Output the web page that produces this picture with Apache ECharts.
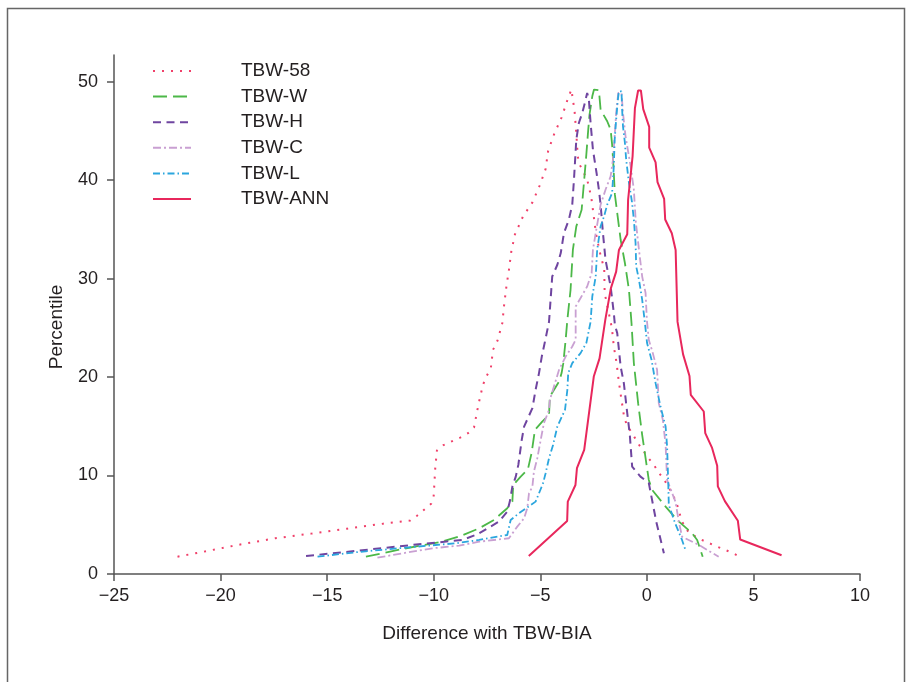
<!DOCTYPE html>
<html>
<head>
<meta charset="utf-8">
<title>TBW mountain plot</title>
<script src="https://cdn.jsdelivr.net/npm/echarts@6/dist/echarts.min.js"></script>
<style>
  html, body { margin: 0; padding: 0; background: #fff; }
  #main { width: 908px; height: 682px; }
</style>
</head>
<body>
<div id="main"></div>
<script>
// difference with TBW-BIA (x) vs folded percentile (y)
var seriesNames = ['TBW-58', 'TBW-W', 'TBW-H', 'TBW-C', 'TBW-L', 'TBW-ANN'];
var xTicks = [-25, -20, -15, -10, -5, 0, 5, 10];
var yTicks = [0, 10, 20, 30, 40, 50];

var tbw58 = [
  [-22.02, 1.76], [-20.78, 2.27], [-19.12, 2.98], [-17.43, 3.63], [-15.75, 4.10], [-14.06, 4.60],
  [-12.37, 5.11], [-11.11, 5.42], [-10.78, 5.92], [-10.45, 6.53], [-10.12, 7.14], [-10.00, 7.96],
  [-9.93, 10.70], [-9.85, 12.53], [-9.55, 13.08], [-8.76, 13.85], [-8.39, 14.30], [-8.11, 14.87],
  [-7.95, 16.67], [-7.87, 17.51], [-7.69, 19.21], [-7.53, 20.05], [-7.32, 20.90], [-7.22, 22.76],
  [-7.01, 23.68], [-6.78, 25.48], [-6.70, 27.24], [-6.59, 29.20], [-6.47, 30.89], [-6.36, 32.75],
  [-6.19, 34.48], [-5.81, 36.31], [-5.37, 37.73], [-5.03, 39.43], [-4.75, 41.13], [-4.63, 42.99],
  [-4.34, 44.72], [-4.00, 46.37], [-3.73, 48.10], [-3.54, 49.2],
  [-3.39, 46.98], [-3.33, 45.30], [-3.27, 43.42], [-3.25, 42.48], [-3.17, 41.64], [-2.99, 40.88],
  [-2.80, 40.04], [-2.61, 38.28], [-2.50, 36.48], [-2.39, 34.62], [-2.22, 32.79], [-2.00, 30.97],
  [-1.98, 28.53], [-1.81, 26.76], [-1.64, 24.97], [-1.55, 23.10], [-1.42, 21.41], [-1.31, 19.44],
  [-1.19, 17.68], [-1.06, 15.85], [-0.92, 15.04], [-0.66, 14.20], [-0.45, 13.38], [0.05, 11.82],
  [0.30, 11.18], [0.56, 10.29], [0.80, 9.62], [1.03, 8.77], [1.22, 8.03], [1.39, 7.25],
  [1.50, 6.43], [1.65, 5.32], [1.94, 4.30], [2.40, 3.63], [3.22, 2.85], [4.00, 2.16], [4.36, 1.76]
];

var tbwW = [
  [-13.18, 1.76], [-11.47, 2.54], [-9.75, 3.22], [-8.73, 3.86], [-7.87, 4.64], [-7.17, 5.49],
  [-6.55, 6.68], [-6.31, 7.35], [-6.27, 9.04], [-5.92, 9.89], [-5.58, 10.64], [-5.41, 12.27],
  [-5.25, 14.63], [-4.91, 15.48], [-4.59, 16.16], [-4.55, 18.02], [-4.12, 19.54], [-4.00, 20.40],
  [-3.92, 21.41], [-3.81, 23.78], [-3.73, 25.81], [-3.58, 28.86], [-3.47, 32.93], [-3.31, 35.30],
  [-3.06, 36.99], [-2.84, 42.58], [-2.75, 45.12], [-2.69, 46.65], [-2.56, 48.51], [-2.48, 49.19],
  [-2.25, 49.12], [-2.17, 47.15], [-1.86, 45.97], [-1.70, 45.12], [-1.63, 43.60], [-1.58, 41.90],
  [-1.50, 38.52], [-1.23, 33.94], [-1.03, 31.58], [-0.84, 28.86], [-0.72, 25.48], [-0.61, 21.41],
  [-0.41, 17.35], [-0.22, 14.13], [0.09, 9.55], [0.25, 8.54], [0.88, 6.84], [1.42, 5.49],
  [2.12, 4.14], [2.36, 3.46], [2.62, 1.76]
];

var tbwH = [
  [-15.99, 1.83], [-13.65, 2.34], [-11.00, 2.95], [-8.66, 3.46], [-7.95, 4.03], [-6.94, 5.32],
  [-6.55, 6.33], [-6.43, 7.35], [-6.31, 8.87], [-6.15, 9.89], [-6.03, 11.08], [-5.87, 13.62],
  [-5.76, 14.97], [-5.37, 16.84], [-5.22, 18.70], [-5.06, 20.40], [-4.93, 22.08], [-4.78, 23.61],
  [-4.59, 25.61], [-4.44, 30.21], [-4.20, 31.40], [-4.04, 32.59], [-3.89, 34.62], [-3.66, 35.98],
  [-3.50, 37.50], [-3.42, 40.04], [-3.31, 44.11], [-3.19, 45.80], [-3.03, 46.82], [-2.91, 47.84],
  [-2.80, 48.85],
  [-2.72, 48.17], [-2.64, 45.80], [-2.53, 43.09], [-2.36, 40.72], [-2.25, 39.02], [-2.17, 37.50],
  [-2.06, 34.62], [-1.94, 31.91], [-1.70, 29.20], [-1.55, 26.49], [-1.50, 25.30], [-1.39, 24.46],
  [-1.23, 21.07], [-1.08, 19.38], [-0.92, 16.33], [-0.80, 14.13], [-0.69, 10.90], [-0.30, 9.89],
  [0.09, 9.25], [0.44, 5.32], [0.80, 2.10]
];

var tbwC = [
  [-12.64, 1.66], [-11.47, 2.10], [-10.06, 2.61], [-8.81, 2.88], [-7.87, 3.28], [-6.47, 3.63],
  [-6.08, 4.81], [-5.76, 5.66], [-5.61, 6.68], [-5.53, 8.20], [-5.37, 8.87], [-5.30, 10.40],
  [-5.14, 11.76], [-4.98, 13.62], [-4.83, 15.32], [-4.59, 16.67], [-4.55, 17.68], [-4.12, 20.73],
  [-3.81, 22.08], [-3.50, 23.10], [-3.34, 23.78], [-3.34, 27.16], [-3.11, 28.02], [-2.80, 29.20],
  [-2.59, 30.56], [-2.53, 32.93], [-2.40, 34.62], [-2.25, 36.48], [-2.17, 37.50], [-1.94, 39.02],
  [-1.70, 40.38], [-1.59, 42.07], [-1.50, 44.79], [-1.44, 46.82], [-1.34, 48.85],
  [-1.19, 48.85], [-1.12, 46.82], [-1.00, 44.44], [-0.76, 41.39], [-0.61, 39.02], [-0.52, 35.77],
  [-0.37, 32.93], [-0.22, 30.21], [-0.06, 28.53], [0.00, 25.81], [0.09, 23.78], [0.28, 22.43],
  [0.48, 20.73], [0.56, 17.35], [0.75, 15.65], [0.88, 13.11], [0.95, 9.55], [1.34, 7.35],
  [1.50, 5.32], [1.65, 3.79], [2.44, 2.95], [3.37, 1.76]
];

var tbwL = [
  [-15.45, 1.76], [-13.65, 2.21], [-11.15, 2.71], [-8.96, 3.12], [-7.87, 3.46], [-6.55, 3.96],
  [-6.39, 5.49], [-6.00, 6.17], [-5.22, 7.35], [-5.06, 8.20], [-4.87, 9.22], [-4.75, 10.23],
  [-4.59, 11.76], [-4.40, 13.11], [-4.20, 14.97], [-3.84, 16.67], [-3.73, 18.70], [-3.69, 20.40],
  [-3.50, 21.41], [-3.11, 22.43], [-2.84, 23.45], [-2.64, 25.61], [-2.56, 28.18], [-2.40, 30.21],
  [-2.33, 32.93], [-2.17, 35.30], [-2.01, 36.31], [-1.86, 37.50], [-1.63, 38.69], [-1.55, 41.39],
  [-1.51, 44.11], [-1.44, 46.14], [-1.36, 48.17], [-1.31, 49.01],
  [-1.19, 49.01], [-1.16, 47.15], [-1.12, 45.46], [-1.03, 43.77], [-0.97, 42.07], [-0.84, 39.71],
  [-0.70, 37.80], [-0.61, 35.98], [-0.53, 33.61], [-0.50, 31.23], [-0.37, 29.88], [-0.22, 27.85],
  [-0.09, 25.48], [0.01, 23.45], [0.22, 21.75], [0.41, 19.38], [0.64, 17.00], [0.88, 14.97],
  [0.95, 12.94], [1.00, 9.55], [1.03, 7.01], [1.34, 5.08], [1.65, 3.46], [1.81, 2.44]
];

var tbwANN = [
  [-5.54, 1.83], [-3.74, 5.39], [-3.71, 7.35], [-3.35, 9.04], [-3.28, 10.74], [-2.94, 12.6],
  [-2.49, 20.05], [-2.22, 21.9], [-1.95, 25.8], [-1.69, 29.0], [-1.44, 30.7], [-1.31, 32.9],
  [-0.92, 34.5], [-0.88, 38.0], [-0.67, 42.4], [-0.56, 47.3], [-0.41, 49.1],
  [-0.28, 49.1], [-0.17, 47.2], [0.11, 45.4], [0.11, 43.3], [0.41, 41.8], [0.50, 39.8],
  [0.81, 38.1], [0.86, 36.0], [1.17, 34.6], [1.35, 32.9], [1.44, 25.6], [1.70, 22.3],
  [2.00, 20.1], [2.06, 18.2], [2.67, 16.5], [2.74, 14.3], [3.06, 12.8], [3.30, 11.0],
  [3.33, 8.9], [3.66, 7.4], [4.27, 5.4], [4.38, 3.5], [6.32, 1.9]
];

var chartDom = document.getElementById('main');
var chart = echarts.init(chartDom, null, { renderer: 'canvas' });

var axisColor = '#555';
var textColor = '#231f20';
var fontName = '"Liberation Sans", Arial, sans-serif';

function mkSeries(name, data, color, type, width) {
  return {
    name: name,
    type: 'line',
    data: data,
    symbol: 'none',
    showSymbol: false,
    smooth: false,
    lineStyle: { color: color, width: width, type: type },
    itemStyle: { color: color },
    z: 3
  };
}

var option = {
  backgroundColor: '#ffffff',
  animation: false,
  textStyle: { fontFamily: fontName },
  grid: { left: 114, right: 48, top: 55, bottom: 108 },
  legend: {
    orient: 'vertical',
    left: 147,
    top: 56.5,
    itemWidth: 38,
    itemHeight: 19,
    itemGap: 6.6,
    data: seriesNames,
    // hide the symbol circle, keep only the dashed line
    itemStyle: { opacity: 0, color: 'rgba(0,0,0,0)', borderWidth: 0 },
    textStyle: { fontSize: 19, color: textColor, padding: [0, 0, 0, 45] }
  },
  xAxis: {
    type: 'value',
    min: -25,
    max: 10,
    interval: 5,
    name: 'Difference with TBW-BIA',
    nameLocation: 'middle',
    nameGap: 50,
    nameTextStyle: { fontSize: 19, color: textColor },
    splitLine: { show: false },
    axisLine: { onZero: false, lineStyle: { color: axisColor, width: 1.5 } },
    axisTick: { length: 7, lineStyle: { color: axisColor, width: 1.5 } },
    axisLabel: {
      fontSize: 18,
      color: textColor,
      margin: 13,
      formatter: function (v) {
        return v < 0 ? '\u2212' + Math.abs(v) : String(v);
      }
    }
  },
  yAxis: {
    type: 'value',
    min: 0,
    max: 52.7,
    splitLine: { show: false },
    axisLine: { show: true, onZero: false, lineStyle: { color: axisColor, width: 1.5 } },
    axisTick: { show: true, length: 7, customValues: yTicks, lineStyle: { color: axisColor, width: 1.5 } },
    axisLabel: { fontSize: 18, color: textColor, margin: 16, customValues: yTicks }
  },
  graphic: [
    {
      type: 'rect',
      shape: { x: 7.5, y: 8.5, width: 897, height: 700 },
      style: { fill: 'none', stroke: '#666', lineWidth: 1.5 },
      silent: true
    },
    {
      type: 'text',
      x: 57,
      y: 327,
      rotation: Math.PI / 2,
      style: {
        text: 'Percentile',
        fontSize: 19,
        fontFamily: fontName,
        fill: textColor,
        align: 'center',
        verticalAlign: 'middle'
      }
    }
  ],
  series: [
    mkSeries('TBW-58', tbw58, '#f0406a', [2, 7], 2),
    mkSeries('TBW-W', tbwW, '#4cb848', [14, 6], 1.8),
    mkSeries('TBW-H', tbwH, '#6f45a0', [8, 5.5], 2),
    mkSeries('TBW-C', tbwC, '#c9a0d2', [8, 3, 2, 3], 1.8),
    mkSeries('TBW-L', tbwL, '#2ba6de', [7, 3, 1.5, 3], 1.8),
    mkSeries('TBW-ANN', tbwANN, '#e8275c', 'solid', 2)
  ]
};

chart.setOption(option);
</script>
</body>
</html>
